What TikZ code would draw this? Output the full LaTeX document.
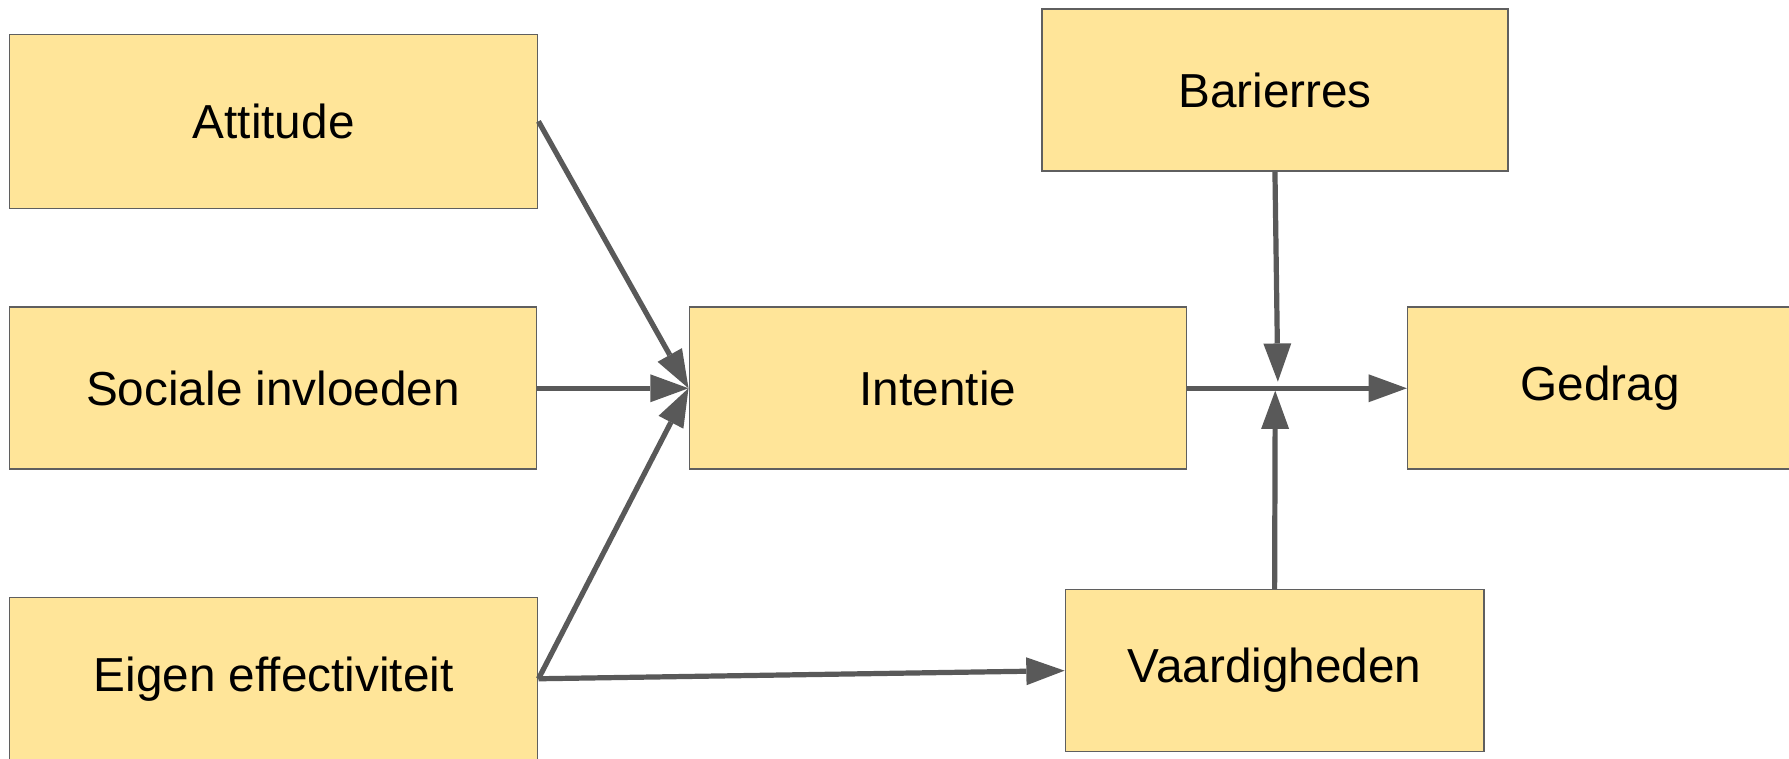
\documentclass[tikz,border=0pt]{standalone}
\usepackage{fontspec}
\setmainfont{Liberation Sans}
\usetikzlibrary{arrows.meta}
\definecolor{boxfill}{HTML}{FFE599}
\definecolor{boxline}{HTML}{5F5F5F}
\definecolor{connline}{HTML}{595959}
\begin{document}
\begin{tikzpicture}[x=0.02cm,y=-0.02cm,
  box/.style={draw=boxline,fill=boxfill,line width=0.8pt,rectangle,inner sep=0pt,
    minimum height=2.84cm,font=\fontsize{23.8}{28}\selectfont,text=black},
  conn/.style={draw=connline,line width=2.6pt,
    -{Triangle[length=0.67cm,width=0.49cm,line width=0pt]}}]
\useasboundingbox (0,0) rectangle (1568,665.2);
\clip (0,0) rectangle (1568,665.2);
\fill[white] (0,0) rectangle (1568,665.2);
\node[box,minimum width=9.258cm,minimum height=3.05cm] (att) at (239.85,106.35) {Attitude};
\node[box,minimum width=9.24cm] (soc) at (239.4,340.3) {Sociale invloeden};
\node[box,minimum width=9.258cm,minimum height=2.844cm] (eig) at (239.85,594.9) {Eigen effectiviteit};
\node[box,minimum width=8.718cm] (int) at (822.05,340.3) {Intentie};
\node[box,minimum width=8.166cm] (bar) at (1117.45,78.9) {Barierres};
\node[box,minimum width=6.752cm] (ged) at (1402.5,340.3) {Gedrag};
\node[box,minimum width=7.338cm] (vaa) at (1117.15,587.8) {Vaardigheden};
\coordinate (jt) at (1120,334.5);
\coordinate (jb) at (1117.7,342.4);
\draw[conn] (att.east) -- (int.west);
\draw[conn] (soc.east) -- (int.west);
\draw[conn] (eig.east) -- (int.west);
\draw[conn] (eig.east) -- (vaa.west);
\draw[conn] (int.east) -- (ged.west);
\draw[conn] (bar.south) -- (jt);
\draw[conn] (vaa.north) -- (jb);
\end{tikzpicture}
\end{document}
